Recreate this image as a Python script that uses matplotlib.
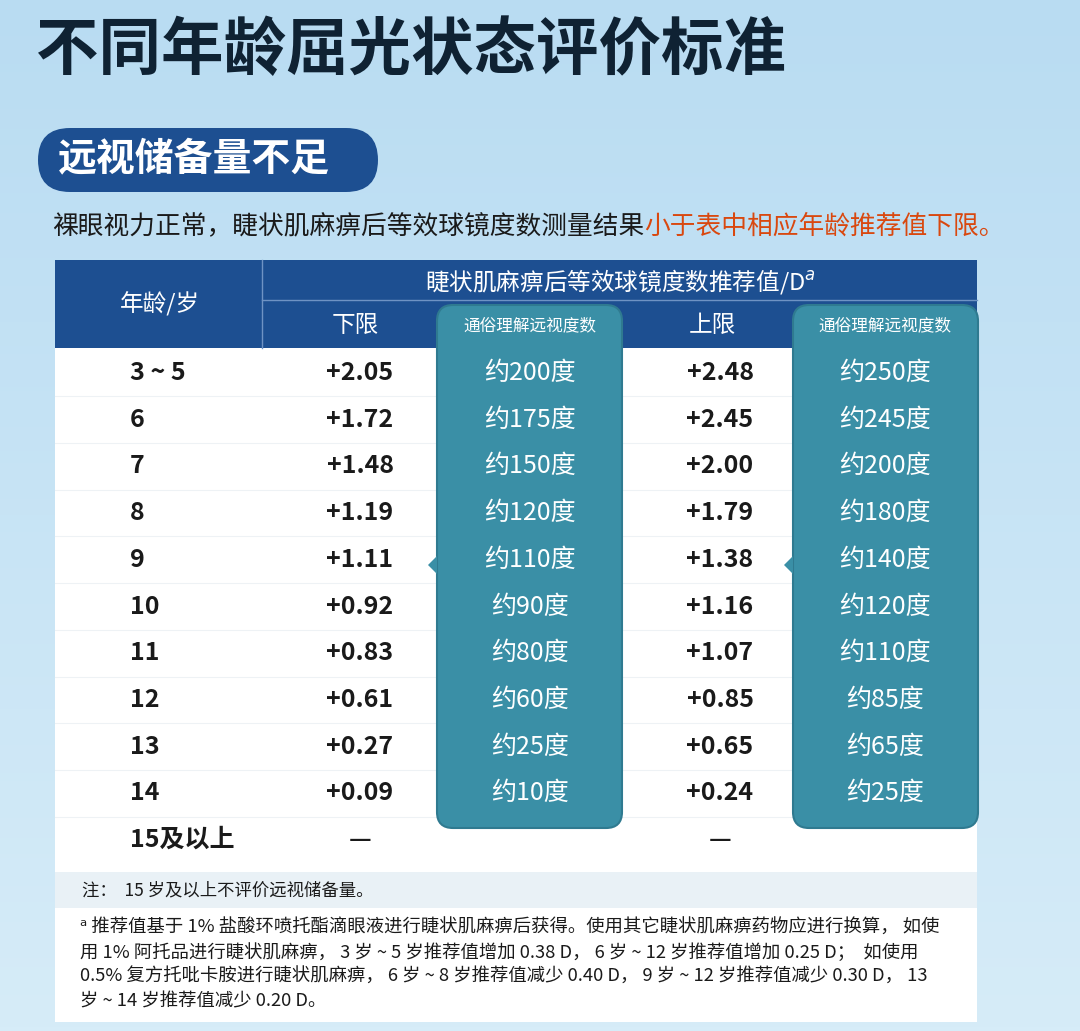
import numpy as np
import matplotlib.pyplot as plt
from matplotlib.patches import FancyBboxPatch, Rectangle, Polygon
from matplotlib.colors import LinearSegmentedColormap

plt.rcParams['font.family'] = ['Noto Sans CJK SC', 'DejaVu Sans']

ages = ["3 ~ 5", "6", "7", "8", "9", "10", "11", "12", "13", "14", "15及以上"]
lower = ["+2.05", "+1.72", "+1.48", "+1.19", "+1.11", "+0.92", "+0.83", "+0.61", "+0.27", "+0.09", "—"]
lower_deg = [200, 175, 150, 120, 110, 90, 80, 60, 25, 10]
upper = ["+2.48", "+2.45", "+2.00", "+1.79", "+1.38", "+1.16", "+1.07", "+0.85", "+0.65", "+0.24", "—"]
upper_deg = [250, 245, 200, 180, 140, 120, 110, 85, 65, 25]

W, H = 1080, 1031
fig = plt.figure(figsize=(W / 100, H / 100), dpi=100)
ax = fig.add_axes([0, 0, 1, 1])
ax.set_xlim(0, W)
ax.set_ylim(H, 0)
ax.axis('off')

grad = np.linspace(0, 1, 256).reshape(-1, 1)
bg = LinearSegmentedColormap.from_list('bg', ['#b9dcf2', '#d6ecf8'])
ax.imshow(grad, cmap=bg, extent=[0, W, H, 0], aspect='auto', zorder=0)

DARK = '#1d4f91'
TEAL = '#3a8fa6'
TXT = '#1a1a1a'

ax.text(36, 50, "不同年龄屈光状态评价标准", fontsize=45, weight='bold',
        color='#0f2233', va='center', ha='left')
ax.add_patch(FancyBboxPatch((38, 128), 340, 64, boxstyle="round,pad=0,rounding_size=32",
                            fc=DARK, ec='none', zorder=2))
ax.text(58, 160, "远视储备量不足", fontsize=28, weight='bold', color='white',
        va='center', ha='left', zorder=3)
t = ax.text(52, 227, "裸眼视力正常，睫状肌麻痹后等效球镜度数测量结果", fontsize=18.5,
            color=TXT, va='center', ha='left', weight='medium')
fig.canvas.draw()
bb = t.get_window_extent()
x_end = ax.transData.inverted().transform((bb.x1, bb.y0))[0]
ax.text(x_end, 227, "小于表中相应年龄推荐值下限。", fontsize=18.5, color='#d9480f',
        va='center', ha='left', weight='medium')

ax.add_patch(Rectangle((55, 260), 922, 762, fc='white', ec='none', zorder=1))
ax.add_patch(Rectangle((55, 260), 922, 88, fc=DARK, ec='none', zorder=2))
ax.plot([262, 262], [260, 348], color='#6f93c4', lw=1, zorder=3)
ax.plot([262, 977], [300, 300], color='#6f93c4', lw=1, zorder=3)
hdr = dict(color='white', ha='center', va='center', zorder=3, weight='medium')
ax.text(160, 304, "年龄/岁", fontsize=17, **hdr)
ax.text(620, 281, "睫状肌麻痹后等效球镜度数推荐值/D$^{a}$", fontsize=17, **hdr)
ax.text(355, 325, "下限", fontsize=17, **hdr)
ax.text(712, 325, "上限", fontsize=17, **hdr)

ax.add_patch(Rectangle((55, 872), 922, 36, fc='#e9f1f6', ec='none', zorder=2))
ax.text(82, 890, "注：  15 岁及以上不评价远视储备量。", fontsize=12.5, color=TXT,
        va='center', zorder=3)
notes = [
    "ᵃ 推荐值基于 1% 盐酸环喷托酯滴眼液进行睫状肌麻痹后获得。使用其它睫状肌麻痹药物应进行换算， 如使",
    "用 1% 阿托品进行睫状肌麻痹， 3 岁 ~ 5 岁推荐值增加 0.38 D， 6 岁 ~ 12 岁推荐值增加 0.25 D；  如使用",
    "0.5% 复方托吡卡胺进行睫状肌麻痹， 6 岁 ~ 8 岁推荐值减少 0.40 D， 9 岁 ~ 12 岁推荐值减少 0.30 D， 13",
    "岁 ~ 14 岁推荐值减少 0.20 D。",
]
for i, line in enumerate(notes):
    ax.text(80, 928 + i * 24.5, line, fontsize=13.2, color=TXT, va='center', zorder=3)

for x0, ytip in [(437, 565), (793, 565)]:
    ax.add_patch(FancyBboxPatch((x0, 305), 185, 523, boxstyle="round,pad=0,rounding_size=16",
                                fc=TEAL, ec='#2f7a90', lw=1.5, zorder=4))
    ax.add_patch(Polygon([[x0, ytip - 9], [x0 - 9, ytip], [x0, ytip + 9]],
                         closed=True, fc=TEAL, ec='none', zorder=4))
ax.text(530, 326, "通俗理解远视度数", fontsize=12, color='white', ha='center', va='center',
        zorder=5, weight='medium')
ax.text(885, 326, "通俗理解远视度数", fontsize=12, color='white', ha='center', va='center',
        zorder=5, weight='medium')

row_y = 373
dy = 46.7
for i in range(len(ages)):
    y = row_y + i * dy
    if i > 0:
        ax.plot([55, 977], [y - dy / 2, y - dy / 2], color='#eef2f5', lw=0.8, zorder=2)
    ax.text(130, y, ages[i], fontsize=18, color=TXT, va='center', ha='left', zorder=3, weight='bold')
    ax.text(360, y, lower[i], fontsize=18, color=TXT, va='center', ha='center', zorder=3, weight='bold')
    ax.text(720, y, upper[i], fontsize=18, color=TXT, va='center', ha='center', zorder=3, weight='bold')
    if i < len(lower_deg):
        ax.text(530, y, f"约{lower_deg[i]}度", fontsize=18, color='white', va='center',
                ha='center', zorder=5, weight='medium')
        ax.text(885, y, f"约{upper_deg[i]}度", fontsize=18, color='white', va='center',
                ha='center', zorder=5, weight='medium')

fig.savefig("out.png", dpi=100)
